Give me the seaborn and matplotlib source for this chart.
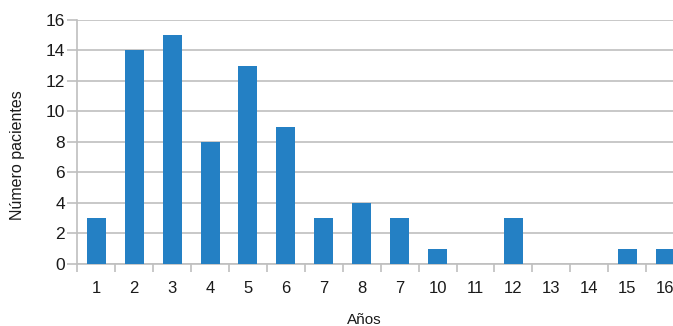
import matplotlib
matplotlib.use("Agg")
import matplotlib.pyplot as plt
from matplotlib.ticker import FixedLocator
import seaborn as sns
import pandas as pd

# Patients per follow-up year
etiquetas = ["1", "2", "3", "4", "5", "6", "7", "8", "7", "10", "11", "12", "13", "14", "15", "16"]
pacientes = [3, 14, 15, 8, 13, 9, 3, 4, 3, 1, 0, 3, 0, 0, 1, 1]
orden = list(range(len(etiquetas)))

df = pd.DataFrame({"pos": orden, "pacientes": pacientes})

sns.set_theme(style="white")
plt.rcParams["font.family"] = ["Liberation Sans", "DejaVu Sans"]

fig = plt.figure(figsize=(6.73, 3.26), dpi=100)
ax = fig.add_axes([0.1149, 0.1902, 0.9015, 0.7485])

grid_col = "#BFBFBF"
sns.barplot(data=df, x="pos", y="pacientes", color="#2480C4", saturation=1,
            width=0.5, linewidth=0, ax=ax, zorder=3)

ax.set_xlim(-0.5, len(etiquetas) - 0.5)
ax.set_ylim(0, 16)
ax.set_yticks(range(0, 17, 2))
ax.yaxis.grid(True, color=grid_col, linewidth=1.2, zorder=0)
ax.set_axisbelow(True)

ax.set_xticks(orden)
ax.set_xticklabels(etiquetas)
ax.xaxis.set_minor_locator(FixedLocator([i - 0.5 for i in orden] + [len(orden) - 0.5]))
ax.tick_params(axis="x", which="major", length=0, pad=12, labelsize=12, labelcolor="#1a1a1a")
ax.tick_params(axis="x", which="minor", length=6, width=1.2, color=grid_col, bottom=True)
ax.tick_params(axis="y", length=7, width=1.2, color=grid_col, left=True, pad=2,
               labelsize=12.5, labelcolor="#1a1a1a")

for side in ("top", "right"):
    ax.spines[side].set_visible(False)
for side in ("left", "bottom"):
    ax.spines[side].set_color(grid_col)
    ax.spines[side].set_linewidth(1.2)

ax.set_xlabel("Años", fontsize=11, color="#1a1a1a")
ax.set_ylabel("Número pacientes", fontsize=11.5, color="#1a1a1a")
ax.xaxis.set_label_coords(0.4726, -0.2)
ax.yaxis.set_label_coords(-0.086, 0.447)

fig.savefig("out.png", dpi=100)
